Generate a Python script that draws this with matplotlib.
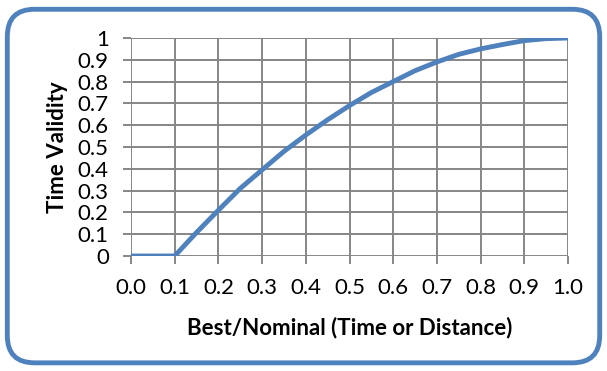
from matplotlib import pyplot as plt
from matplotlib.patches import FancyBboxPatch

# values
ratio = [0.0, 0.05, 0.1, 0.15, 0.2, 0.25, 0.3, 0.35, 0.4, 0.45, 0.5,
         0.55, 0.6, 0.65, 0.7, 0.75, 0.8, 0.85, 0.9, 0.95, 1.0]
validity = [0.0, 0.0, 0.0, 0.108, 0.21, 0.31, 0.395, 0.48, 0.555, 0.625, 0.69,
            0.75, 0.80, 0.85, 0.89, 0.925, 0.95, 0.97, 0.988, 0.997, 1.0]

x_ticks = [0.0, 0.1, 0.2, 0.3, 0.4, 0.5, 0.6, 0.7, 0.8, 0.9, 1.0]
y_ticks = [0, 0.1, 0.2, 0.3, 0.4, 0.5, 0.6, 0.7, 0.8, 0.9, 1]
y_labels = ['0', '0.1', '0.2', '0.3', '0.4', '0.5', '0.6', '0.7', '0.8', '0.9', '1']

blue = '#4F81BD'
grid = '#868686'

plt.rcParams['font.family'] = ['Lato', 'DejaVu Sans']

fig = plt.figure(figsize=(6.07, 3.71), dpi=100)

# rounded chart border
border = FancyBboxPatch((0.012, 0.022), 0.976, 0.953,
                        boxstyle='round,pad=0,rounding_size=0.045',
                        transform=fig.transFigure, facecolor='white',
                        edgecolor=blue, linewidth=3.5, zorder=-1,
                        mutation_aspect=607 / 371)
fig.patches.append(border)

ax = fig.add_axes([0.2158, 0.31, 0.72, 0.5876])
ax.set_zorder(1)
ax.set_facecolor('none')
ax.plot(ratio, validity, color=blue, linewidth=3.5, solid_capstyle='butt', zorder=3)

ax.set_xlim(0, 1)
ax.set_ylim(0, 1)
ax.set_xticks(x_ticks)
ax.set_xticklabels(['%.1f' % v for v in x_ticks])
ax.set_yticks(y_ticks)
ax.set_yticklabels(y_labels)
ax.grid(True, color=grid, linewidth=1.4)
for s in ax.spines.values():
    s.set_visible(False)
ax.tick_params(axis='both', color=grid, width=1.4, length=6, labelsize=16)
ax.tick_params(axis='x', pad=10)
ax.tick_params(axis='y', pad=10)

ax.set_xlabel('Best/Nominal (Time or Distance)', fontsize=16, fontweight='bold')
ax.set_ylabel('Time Validity', fontsize=16, fontweight='bold')
ax.xaxis.set_label_coords(0.5, -0.28)
ax.yaxis.set_label_coords(-0.145, 0.5)

fig.savefig('out.png', dpi=100)
